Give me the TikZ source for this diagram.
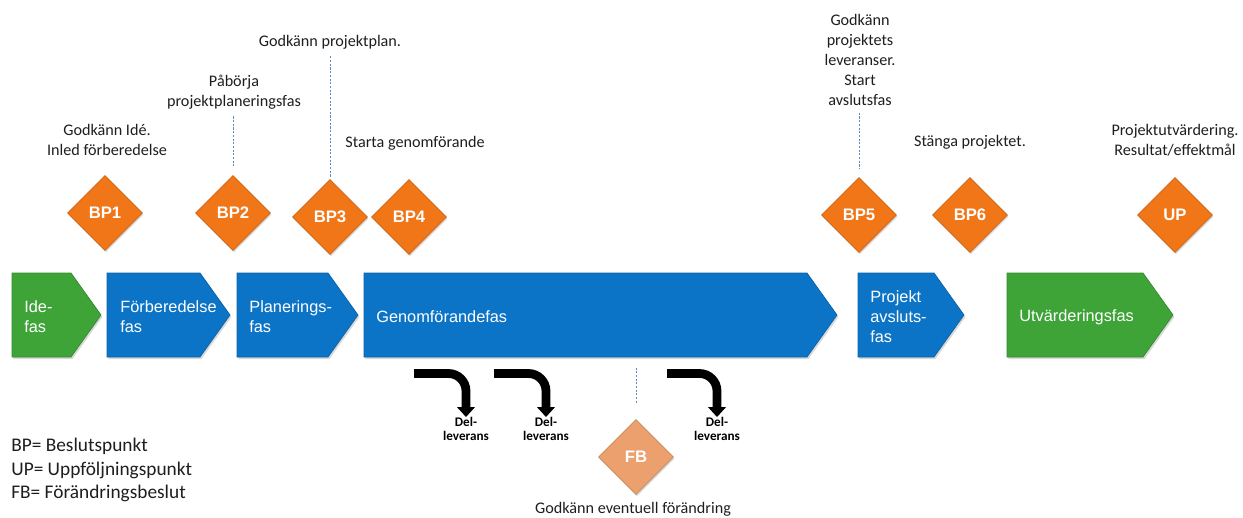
\documentclass[tikz,border=0pt]{standalone}
\usepackage{fontspec}
\setmainfont{Carlito}
\newfontfamily\arialfont{Liberation Sans}
\usetikzlibrary{shapes.geometric,arrows.meta,shadows}
\definecolor{phaseblue}{RGB}{12,116,198}
\definecolor{idegreen}{RGB}{62,164,56}
\definecolor{bporange}{RGB}{240,118,24}
\definecolor{fbpeach}{RGB}{236,160,110}
\definecolor{guideblue}{RGB}{90,140,200}
\definecolor{inktext}{RGB}{30,30,30}
\tikzset{
  phase/.style={drop shadow={opacity=0.3,shadow xshift=0.8pt,shadow yshift=-1.2pt}},
  phasetext/.style={text=white,font=\arialfont\fontsize{9.3}{11.3}\selectfont,align=left,anchor=west,inner sep=0},
  bp/.style={diamond,fill=bporange,draw=bporange!85!black,line width=0.4pt,minimum width=1.5cm,minimum height=1.5cm,inner sep=0,text=white,
    font=\arialfont\bfseries\fontsize{9.5}{10}\selectfont,drop shadow={opacity=0.3,shadow xshift=0.6pt,shadow yshift=-1pt}},
  note/.style={align=center,text=inktext,font=\fontsize{9.2}{11.3}\selectfont,inner sep=0},
  guide/.style={guideblue,line width=0.5pt,dash pattern=on 1.2pt off 0.9pt},
  del/.style={align=center,font=\bfseries\fontsize{7.5}{7.9}\selectfont,inner sep=0},
  turn/.style={line width=5pt,rounded corners=10pt,-{Triangle[width=10pt,length=5.7pt]}},
}
\begin{document}
\begin{tikzpicture}[x=0.02cm,y=-0.02cm]
\useasboundingbox (0,0) rectangle (1243,517);
% phase arrows
\foreach \xa/\xb/\col in {12/101/idegreen,107/230/phaseblue,237/358/phaseblue,364/837/phaseblue,858/964/phaseblue,1007/1173/idegreen}
  \fill[phase,fill=\col,draw=\col!85!black,line width=0.4pt] (\xa,273) -- (\xb-30,273) -- (\xb,315) -- (\xb-30,357) -- (\xa,357) -- cycle;
\node[phasetext] (ide) at (24,317) {Ide-\\fas};
\node[phasetext] (forb) at (120,317) {Förberedelse\\fas};
\node[phasetext] (plan) at (249,317) {Planerings-\\fas};
\node[phasetext] (genom) at (376,317) {Genomförandefas};
\node[phasetext] (avsl) at (870,317) {Projekt\\avsluts-\\fas};
\node[phasetext] (utv) at (1019,317) {Utvärderingsfas};
% decision points
\node[bp] (bp1) at (105,213) {BP1};
\node[bp] (bp2) at (233,213) {BP2};
\node[bp] (bp3) at (330,217) {BP3};
\node[bp] (bp4) at (409,217) {BP4};
\node[bp] (bp5) at (859,215) {BP5};
\node[bp] (bp6) at (970,215) {BP6};
\node[bp] (up) at (1175,215) {UP};
\node[bp,fill=fbpeach,draw=fbpeach!85!black] (fb) at (636,457) {FB};
% notes
\node[note] (t1) at (107,140) {Godkänn Idé.\\Inled förberedelse};
\node[note] (t2) at (234,92) {Påbörja\\projektplaneringsfas};
\node[note] (t3) at (330,42) {Godkänn projektplan.};
\node[note] (t4) at (415,143) {Starta genomförande};
\node[note] (t5) at (860,60) {Godkänn\\projektets\\leveranser.\\Start\\avslutsfas};
\node[note] (t6) at (970,142) {Stänga projektet.};
\node[note] (t7) at (1175,140) {Projektutvärdering.\\Resultat/effektmål};
\node[note] (t8) at (633,509) {Godkänn eventuell förändring};
\draw[guide,shorten <=4pt,shorten >=4.5pt] (bp2.north |- t2.south) -- (bp2.north);
\draw[guide,shorten <=4pt,shorten >=1pt] (bp3.north |- t3.south) -- (bp3.north);
\draw[guide,shorten <=4pt,shorten >=5pt] (bp5.north |- t5.south) -- (bp5.north);
\coordinate (genombase) at (636,357);
\draw[guide,shorten <=6pt,shorten >=8.5pt] (genombase) -- (fb.north);
% deliveries
\node[del] (d1) at (466,429) {Del-\\leverans};
\node[del] (d2) at (546,429) {Del-\\leverans};
\node[del] (d3) at (717,429) {Del-\\leverans};
\coordinate (s1) at (414,373.5);
\coordinate (s2) at (494,373.5);
\coordinate (s3) at (667,373.5);
\draw[turn] (s1) -- (s1 -| d1.north) -- (d1.north);
\draw[turn] (s2) -- (s2 -| d2.north) -- (d2.north);
\draw[turn] (s3) -- (s3 -| d3.north) -- (d3.north);
% legend
\node[anchor=west,align=left,inner sep=0,text=inktext,font=\fontsize{11}{13.6}\selectfont] (legend) at (11,470)
  {BP= Beslutspunkt\\UP= Uppföljningspunkt\\FB= Förändringsbeslut};
\end{tikzpicture}
\end{document}
